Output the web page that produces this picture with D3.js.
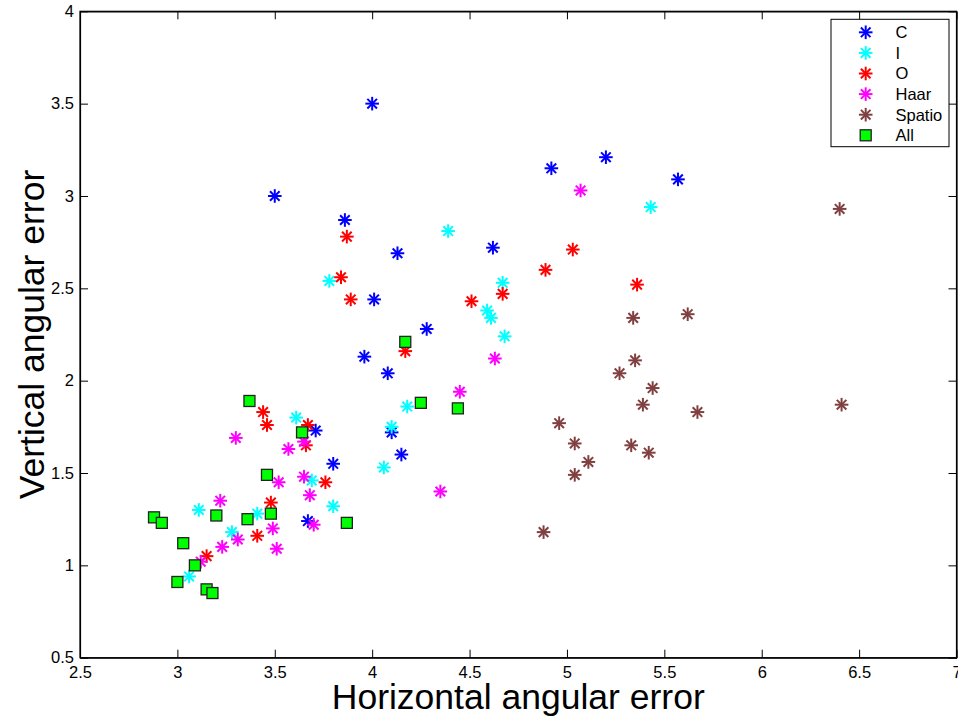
<!DOCTYPE html>
<html><head><meta charset="utf-8">
<script src="https://cdn.jsdelivr.net/npm/d3@7"></script>
<style>
body{margin:0;background:#fff;}
text{font-family:"Liberation Sans",Arial,Helvetica,sans-serif;fill:#000;}
</style></head>
<body><svg id="chart" width="958" height="717"></svg>
<script>
const seriesNames = ["C","I","O","Haar","Spatio","All"];
const seriesColors = ["#0000ff","#00ffff","#ff0000","#ff00ff","#804040","#00ff00"];
const xTicks = [2.5,3,3.5,4,4.5,5,5.5,6,6.5,7];
const yTicks = [0.5,1,1.5,2,2.5,3,3.5,4];

const cX = [3.50,4.00,3.86,4.13,4.01,4.28,4.62,3.96,4.08,4.10,4.15,3.71,3.80,3.67,4.92,5.20,5.57];
const cY = [3.00,3.50,2.87,2.69,2.44,2.28,2.72,2.13,2.04,1.72,1.60,1.73,1.55,1.24,3.15,3.21,3.09];

const iX = [5.43,4.39,3.78,4.67,4.59,4.61,4.68,4.18,4.10,4.06,3.80,3.69,3.61,3.41,3.28,3.11,3.06];
const iY = [2.94,2.81,2.54,2.53,2.38,2.34,2.24,1.86,1.75,1.53,1.32,1.46,1.80,1.28,1.18,1.30,0.94];

const oX = [3.87,5.03,4.89,3.84,3.89,4.51,4.67,5.36,4.17,3.44,3.46,3.67,3.66,3.76,3.48,3.41,3.15];
const oY = [2.78,2.71,2.60,2.56,2.44,2.43,2.47,2.52,2.16,1.83,1.76,1.76,1.65,1.45,1.34,1.16,1.05];

const hX = [5.07,4.63,4.45,4.35,3.65,3.68,3.70,3.30,3.57,3.65,3.52,3.22,3.49,3.51,3.31,3.23,3.12];
const hY = [3.03,2.12,1.94,1.40,1.48,1.38,1.22,1.69,1.63,1.67,1.45,1.35,1.20,1.09,1.14,1.10,1.02];

const sX = [6.40,5.62,5.34,5.35,5.27,5.44,5.39,5.67,6.41,5.33,5.42,4.96,5.04,5.11,5.04,4.88];
const sY = [2.93,2.36,2.34,2.11,2.04,1.96,1.87,1.83,1.87,1.65,1.61,1.77,1.66,1.56,1.49,1.18];

const aX = [3.37,3.64,3.46,3.48,3.36,3.20,2.88,2.92,3.03,3.09,3.00,3.15,3.18,3.87,4.17,4.25,4.44];
const aY = [1.89,1.72,1.49,1.28,1.25,1.27,1.26,1.23,1.12,1.00,0.91,0.87,0.85,1.23,2.21,1.88,1.85];

const seriesX = [cX,iX,oX,hX,sX,aX];
const seriesY = [cY,iY,oY,hY,sY,aY];

const svg = d3.select("#chart");
const L=80, R=956.5, T=11.3, B=657.7;
const x = d3.scaleLinear().domain([2.5,7]).range([L,R]);
const y = d3.scaleLinear().domain([0.5,4]).range([B,T]);
const FONT = "'Liberation Sans',Arial,Helvetica,sans-serif";

svg.append("rect").attr("x",L).attr("y",T).attr("width",R-L).attr("height",B-T)
  .attr("fill","#fff").attr("stroke","#000").attr("stroke-width",1.2);

const tickLen = 8;
const xAxisB = d3.axisBottom(x).tickValues(xTicks).tickSizeInner(-tickLen).tickSizeOuter(0).tickPadding(9).tickFormat(d3.format("~g"));
const gxb = svg.append("g").attr("transform",`translate(0,${B})`).call(xAxisB);
const xAxisT = d3.axisTop(x).tickValues(xTicks).tickSizeInner(-tickLen).tickSizeOuter(0).tickFormat("");
const gxt = svg.append("g").attr("transform",`translate(0,${T})`).call(xAxisT);
const yAxisL = d3.axisLeft(y).tickValues(yTicks).tickSizeInner(-tickLen).tickSizeOuter(0).tickPadding(6).tickFormat(d3.format("~g"));
const gyl = svg.append("g").attr("transform",`translate(${L},0)`).call(yAxisL);
const yAxisR = d3.axisRight(y).tickValues(yTicks).tickSizeInner(-tickLen).tickSizeOuter(0).tickFormat("");
const gyr = svg.append("g").attr("transform",`translate(${R},0)`).call(yAxisR);
[gxb,gxt,gyl,gyr].forEach(g=>{
  g.attr("font-size",16.5).attr("font-family",FONT);
  g.select(".domain").attr("stroke","#000").attr("stroke-width",1.2);
  g.selectAll(".tick line").attr("stroke","#000").attr("stroke-width",1);
  g.selectAll("text").style("font-size","16.5px").attr("fill","#000").style("font-family",FONT);
});

svg.append("text").attr("x",(L+R)/2).attr("y",709).attr("text-anchor","middle")
  .style("font-size","35.5px").text("Horizontal angular error");
svg.append("text").attr("transform",`translate(44,${(T+B)/2}) rotate(-90)`).attr("text-anchor","middle")
  .style("font-size","35.5px").text("Vertical angular error");

const rr = 6.8, rd = 6.8*0.7071;
function star(g, cx, cy, color){
  const s = g.append("g").attr("transform",`translate(${cx},${cy})`)
    .attr("stroke",color).attr("stroke-width",2).attr("stroke-linecap","butt");
  s.append("line").attr("x1",-rr).attr("x2",rr).attr("y1",0).attr("y2",0);
  s.append("line").attr("x1",0).attr("x2",0).attr("y1",-rr).attr("y2",rr);
  s.append("line").attr("x1",-rd).attr("x2",rd).attr("y1",-rd).attr("y2",rd);
  s.append("line").attr("x1",-rd).attr("x2",rd).attr("y1",rd).attr("y2",-rd);
}
function square(g, cx, cy, color){
  g.append("rect").attr("x",cx-5.5).attr("y",cy-5.5).attr("width",11).attr("height",11)
    .attr("fill",color).attr("stroke","#222").attr("stroke-width",1.3);
}
const plotG = svg.append("g");
seriesNames.forEach((name,k)=>{
  const xs = seriesX[k], ys = seriesY[k];
  xs.forEach((v,i)=>{
    if(name==="All") square(plotG, x(v), y(ys[i]), seriesColors[k]);
    else star(plotG, x(v), y(ys[i]), seriesColors[k]);
  });
});

const lg = svg.append("g");
lg.append("rect").attr("x",831).attr("y",19.3).attr("width",118).attr("height",127.4)
  .attr("fill","#fff").attr("stroke","#000").attr("stroke-width",1);
seriesNames.forEach((name,k)=>{
  const yy = 32.3 + k*20.6;
  if(name==="All") square(lg, 865.7, yy, seriesColors[k]);
  else star(lg, 865.7, yy, seriesColors[k]);
  lg.append("text").attr("x",895.5).attr("y",yy).attr("dy","0.36em").style("font-size","16.5px").text(name);
});
</script></body></html>
